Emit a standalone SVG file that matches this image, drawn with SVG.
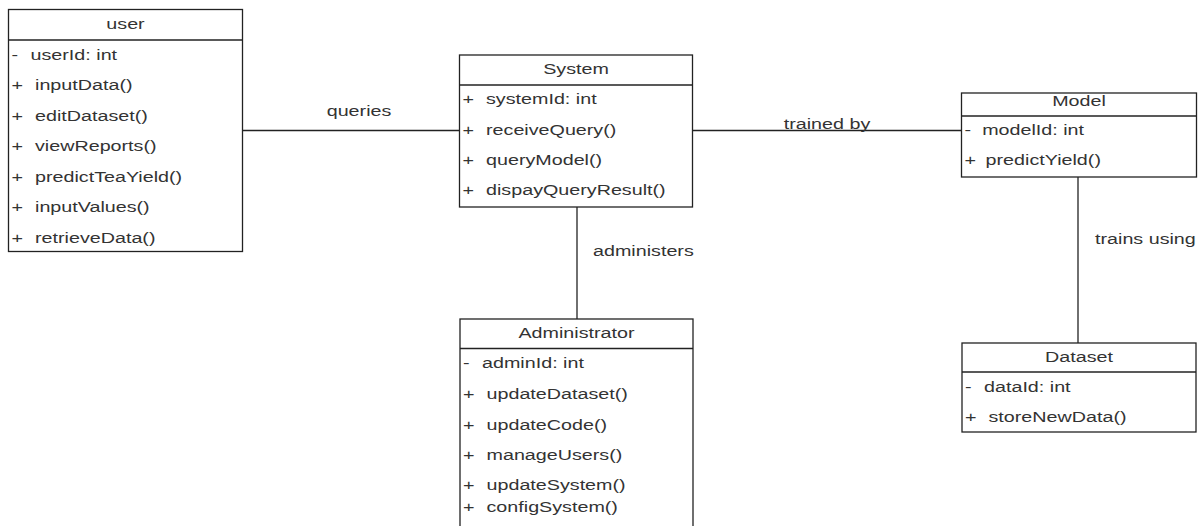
<svg xmlns="http://www.w3.org/2000/svg" width="1203" height="526" viewBox="0 0 1203 526">
  <style>
    .box { fill: #ffffff; stroke: #222222; stroke-width: 1.3; }
    .sep { stroke: #222222; stroke-width: 1.3; }
    .edge { stroke: #222222; stroke-width: 1.3; fill: none; }
    .t { font-family: "Liberation Sans", Arial, sans-serif; font-size: 14.5px; fill: #333333; }
    .c { text-anchor: middle; }
  </style>
  <rect width="1203" height="526" fill="#ffffff"/>

  <!-- associations -->
  <g id="connectors">
    <line class="edge" x1="243" y1="130.5" x2="459.5" y2="130.5"/>
    <line class="edge" x1="692.5" y1="130.5" x2="961.5" y2="130.5"/>
    <line class="edge" x1="577" y1="207" x2="577" y2="319"/>
    <line class="edge" x1="1078" y1="177" x2="1078" y2="343"/>
    <text class="t c" transform="translate(359,116) scale(1.36,1)">queries</text>
    <text class="t c" transform="translate(827,129) scale(1.36,1)">trained by</text>
    <text class="t" transform="translate(593,256) scale(1.36,1)">administers</text>
    <text class="t" transform="translate(1095,244) scale(1.36,1)">trains using</text>
  </g>

  <!-- user class (member names sit in a fixed column after the +/- marker) -->
  <g id="user">
    <rect class="box" x="8.5" y="9.5" width="234" height="242"/>
    <line class="sep" x1="8.5" y1="40" x2="242.5" y2="40"/>
    <text class="t c" transform="translate(125.5,29) scale(1.36,1)">user</text>
    <text class="t" transform="translate(11.5,59.5) scale(1.36,1)">-<tspan x="14">userId: int</tspan></text>
    <text class="t" transform="translate(11.5,90) scale(1.36,1)">+<tspan x="17.3">inputData()</tspan></text>
    <text class="t" transform="translate(11.5,120.5) scale(1.36,1)">+<tspan x="17.3">editDataset()</tspan></text>
    <text class="t" transform="translate(11.5,151) scale(1.36,1)">+<tspan x="17.3">viewReports()</tspan></text>
    <text class="t" transform="translate(11.5,181.5) scale(1.36,1)">+<tspan x="17.3">predictTeaYield()</tspan></text>
    <text class="t" transform="translate(11.5,212) scale(1.36,1)">+<tspan x="17.3">inputValues()</tspan></text>
    <text class="t" transform="translate(11.5,242.5) scale(1.36,1)">+<tspan x="17.3">retrieveData()</tspan></text>
  </g>

  <!-- System class -->
  <g id="system">
    <rect class="box" x="459.5" y="55" width="233" height="152"/>
    <line class="sep" x1="459.5" y1="85" x2="692.5" y2="85"/>
    <text class="t c" transform="translate(576,74) scale(1.36,1)">System</text>
    <text class="t" transform="translate(462.5,104) scale(1.36,1)">+<tspan x="17.3">systemId: int</tspan></text>
    <text class="t" transform="translate(462.5,135) scale(1.36,1)">+<tspan x="17.3">receiveQuery()</tspan></text>
    <text class="t" transform="translate(462.5,165) scale(1.36,1)">+<tspan x="17.3">queryModel()</tspan></text>
    <text class="t" transform="translate(462.5,195) scale(1.36,1)">+<tspan x="17.3">dispayQueryResult()</tspan></text>
  </g>

  <!-- Administrator class (runs past the bottom edge) -->
  <g id="administrator">
    <rect class="box" x="460" y="319" width="233" height="230"/>
    <line class="sep" x1="460" y1="348.5" x2="693" y2="348.5"/>
    <text class="t c" transform="translate(576.5,338) scale(1.36,1)">Administrator</text>
    <text class="t" transform="translate(463,368) scale(1.36,1)">-<tspan x="14">adminId: int</tspan></text>
    <text class="t" transform="translate(463,399) scale(1.36,1)">+<tspan x="17.3">updateDataset()</tspan></text>
    <text class="t" transform="translate(463,429.5) scale(1.36,1)">+<tspan x="17.3">updateCode()</tspan></text>
    <text class="t" transform="translate(463,460) scale(1.36,1)">+<tspan x="17.3">manageUsers()</tspan></text>
    <text class="t" transform="translate(463,490) scale(1.36,1)">+<tspan x="17.3">updateSystem()</tspan></text>
    <text class="t" transform="translate(463,511.5) scale(1.36,1)">+<tspan x="17.3">configSystem()</tspan></text>
  </g>

  <!-- Model class -->
  <g id="model">
    <rect class="box" x="961.5" y="93" width="235" height="84"/>
    <line class="sep" x1="961.5" y1="116" x2="1196.5" y2="116"/>
    <text class="t c" transform="translate(1079,105.5) scale(1.36,1)">Model</text>
    <text class="t" transform="translate(964.5,135) scale(1.36,1)">-<tspan x="13">modelId: int</tspan></text>
    <text class="t" transform="translate(964.5,165) scale(1.36,1)">+<tspan x="15.5">predictYield()</tspan></text>
  </g>

  <!-- Dataset class -->
  <g id="dataset">
    <rect class="box" x="962" y="343" width="234" height="89"/>
    <line class="sep" x1="962" y1="372" x2="1196" y2="372"/>
    <text class="t c" transform="translate(1079,362) scale(1.36,1)">Dataset</text>
    <text class="t" transform="translate(965,392) scale(1.36,1)">-<tspan x="14">dataId: int</tspan></text>
    <text class="t" transform="translate(965,422) scale(1.36,1)">+<tspan x="17.3">storeNewData()</tspan></text>
  </g>
</svg>
